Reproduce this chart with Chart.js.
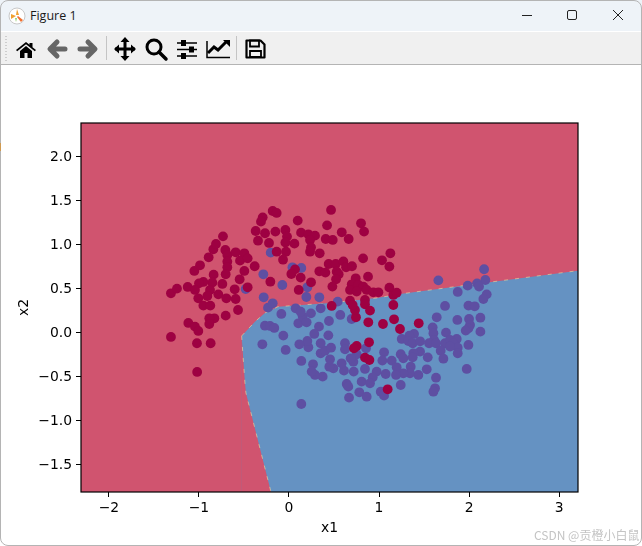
<!DOCTYPE html>
<html>
<head>
<meta charset="utf-8">
<title>Figure 1</title>
<script src="https://cdn.jsdelivr.net/npm/chart.js@4/dist/chart.umd.js"></script>
<style>
    html, body { margin: 0; padding: 0; background: #fff; }
    body { width: 642px; height: 546px; position: relative; overflow: hidden; }
    #frame { position: absolute; left: 0; top: 0; width: 640px; height: 544px; border: 1px solid #b4b4b4; border-radius: 8px 8px 8px 8px; pointer-events: none; z-index: 5; }
    #blip { position: absolute; left: 0; top: 143px; width: 1px; height: 8px; background: #d09a50; z-index: 6; }
    #titlebar { position: absolute; left: 0; top: 0; width: 642px; height: 31px; background: #eef3f8; }
    #caption { position: absolute; left: 30px; top: 7px; font: 12.5px "Open Sans", sans-serif; color: #1a1a1a; }
    #toolbar { position: absolute; left: 0; top: 32px; width: 642px; height: 32px; background: #f0f0f0; border-bottom: 1px solid #b4b4b4; }
    #chrome { position: absolute; left: 0; top: 0; }
    #plot { position: absolute; left: 0; top: 65px; }
    #mark { position: absolute; left: 534px; top: 526px; font: 12px "Noto Sans CJK SC", sans-serif; color: #c4c4c4; white-space: nowrap; }
</style>
</head>
<body>
<div id="titlebar"><div id="caption">Figure 1</div></div>
<div id="toolbar"></div>
<svg id="chrome" width="642" height="65">
    <!-- window icon -->
    <circle cx="17" cy="16" r="8" fill="#fff" stroke="#c8c8c8"/>
    <path d="M11 14l5 2-5 3zM17 9l2 6-3 0z" fill="#f0a030"/>
    <path d="M18 16l5 4-2 2-4-5z" fill="#f07030"/>
    <path d="M15 18l2 0-1 4z" fill="#90d070"/>
    <!-- window buttons -->
    <path d="M522 15.5h10" stroke="#222" stroke-width="1"/>
    <rect x="567.5" y="10.5" width="9" height="9" rx="1.5" fill="none" stroke="#222"/>
    <path d="M613 10l10 10M623 10l-10 10" stroke="#222" stroke-width="1"/>
    <!-- grip -->
    <path d="M6 36v26" stroke="#aaa" stroke-width="1" stroke-dasharray="1 2"/>
    <!-- home -->
    <path d="M16 50l10-8 3.500 2.800v-1.800h3v4.200l3.500 2.800-1.200 1.200-8.800-7-8.800 7z" fill="#000"/>
    <path d="M20 51l6-5 6 5v7h-4.500v-5h-3v5h-4.500z" fill="#000"/>
    <!-- back / forward -->
    <path d="M57 42l-7 7 7 7M51 49h14" fill="none" stroke="#666" stroke-width="5" stroke-linejoin="round" stroke-linecap="round"/>
    <path d="M88 42l7 7-7 7M94 49h-14" fill="none" stroke="#666" stroke-width="5" stroke-linejoin="round" stroke-linecap="round"/>
    <path d="M106.500 36v24M236.500 36v24" stroke="#c4c4c4"/>
    <!-- pan -->
    <path d="M125 39v20M115 49h20" stroke="#000" stroke-width="3"/>
    <path d="M125 37l-4.500 5h9zM125 61l-4.500-5h9zM114 49l5-4.500v9zM136 49l-5-4.500v9z" fill="#000"/>
    <!-- zoom -->
    <circle cx="154" cy="47" r="7" fill="none" stroke="#000" stroke-width="3"/>
    <path d="M159 52l7 7" stroke="#000" stroke-width="3.500" stroke-linecap="round"/>
    <!-- sliders -->
    <path d="M177 43h20M177 49.500h20M177 56h20" stroke="#000" stroke-width="1.500"/>
    <path d="M181 40h5v6h-5zM189 46.500h5v6h-5zM181 53h5v6h-5z" fill="#000"/>
    <!-- axes -->
    <path d="M207 41v16.500h23" fill="none" stroke="#000" stroke-width="1.500"/>
    <path d="M208 53l6-6 4 3 8-8" fill="none" stroke="#000" stroke-width="3"/>
    <path d="M230 40l-7 0 7 7z" fill="#000"/>
    <!-- save -->
    <path d="M246.500 40.500h14l4 4v13h-18z" fill="none" stroke="#000" stroke-width="2.200" stroke-linejoin="round"/>
    <path d="M250 40.500h9v6h-9zM250 51h11v6h-11z" fill="none" stroke="#000" stroke-width="1.800"/>
</svg>
<canvas id="plot" width="642" height="481"></canvas>
<div id="mark">CSDN @贡橙小白鼠</div>
<div id="blip"></div>
<div id="frame"></div>
<script>
    // Axis limits and ticks
    const xMin = -2.31, xMax = 3.21;
    const yMin = -1.807, yMax = 2.386;
    const xTicks = [-2, -1, 0, 1, 2, 3];
    const yTicks = [-1.5, -1.0, -0.5, 0.0, 0.5, 1.0, 1.5, 2.0];

    // Decision boundary
    const boundaryTop = [
        [-0.526, -0.034], [-0.378, 0.128], [-0.267, 0.227], [-0.122, 0.299], [0.456, 0.341],
        [0.978, 0.398], [1.233, 0.443], [1.822, 0.523], [3.21, 0.708]
    ];
    const boundaryLeft = [
        [-0.526, -0.034], [-0.489, -0.568], [-0.478, -0.682], [-0.2, -1.807]
    ];

    // Class 0 samples
    const redPoints = [
        [-1.311, 0.451], [-1.244, 0.504], [-1.125, 0.523], [-1.051, 0.705], [-0.988, 0.769], [-0.892, 0.860],
        [-0.840, 0.951], [-0.811, 1.011], [-0.733, 1.098], [-0.707, 0.943], [-0.685, 0.886], [-0.685, 0.811],
        [-0.685, 0.746], [-0.703, 0.667], [-0.592, 0.917], [-0.496, 0.905], [-0.544, 0.822], [-0.459, 0.848],
        [-0.496, 0.705], [-0.548, 0.610], [-0.381, 0.758], [-0.740, 0.557], [-0.603, 0.496], [-0.459, 0.519],
        [-0.837, 0.663], [-0.851, 0.572], [-0.951, 0.580], [-1.000, 0.564], [-1.044, 0.489], [-0.877, 0.489],
        [-0.907, 0.420], [-0.785, 0.439], [-0.696, 0.394], [-0.592, 0.386], [-1.007, 0.394], [-0.951, 0.311],
        [-0.874, 0.311], [-0.566, 0.261], [-0.703, 0.197], [-0.829, 0.167], [-0.885, 0.167], [-0.885, 0.102],
        [-1.118, 0.114], [-1.044, 0.072], [-1.007, 0.023], [-1.311, -0.045], [-1.022, -0.117], [-0.870, -0.117],
        [-1.020, -0.443],
        [-0.181, 1.386], [-0.137, 1.364], [-0.292, 1.314], [-0.311, 1.265], [-0.370, 1.159], [-0.266, 1.133],
        [-0.151, 1.152], [-0.344, 1.049], [-0.222, 1.023], [-0.040, 1.170], [-0.022, 1.095], [-0.040, 1.027],
        [0.060, 1.015], [-0.033, 0.924], [-0.137, 0.924], [-0.066, 0.833], [0.097, 1.277], [0.134, 1.140],
        [0.215, 1.121], [0.289, 1.106], [0.234, 1.057], [0.408, 1.068], [0.486, 1.057], [0.663, 1.068],
        [0.586, 1.144], [0.800, 1.246], [0.834, 1.152], [0.423, 1.223], [0.467, 1.398], [0.245, 0.973],
        [0.234, 0.924], [0.341, 0.905], [0.823, 0.848], [0.441, 0.784], [0.519, 0.784], [0.604, 0.814],
        [0.634, 0.746], [0.700, 0.758], [0.337, 0.701], [0.404, 0.686], [0.530, 0.697], [0.552, 0.667],
        [0.523, 0.610], [0.482, 0.527], [0.245, 0.576], [0.130, 0.629], [0.067, 0.723], [0.026, 0.670],
        [-0.207, 0.583], [0.108, 0.489], [0.878, 0.640], [0.741, 0.621], [0.697, 0.553], [0.771, 0.545],
        [0.826, 0.527], [0.678, 0.489], [0.752, 0.470], [0.863, 0.489],
        [1.126, 0.905], [1.033, 0.826], [1.115, 0.754],
        [0.937, 0.462], [0.993, 0.462], [1.115, 0.515], [1.159, 0.432], [1.196, 0.458], [1.159, 0.318],
        [1.167, 0.155], [1.044, 0.102], [0.881, 0.121], [1.233, 0.045], [1.441, 0.110], [0.889, -0.106],
        [0.752, -0.148], [0.722, -0.174], [0.844, -0.280], [0.893, -0.307], [1.096, -0.640], [0.844, 0.375],
        [0.844, 0.326], [0.900, 0.254], [0.744, 0.178], [0.733, 0.261], [0.678, 0.367], [0.707, 0.318],
        [0.474, 0.307]
    ];

    // Class 1 samples
    const bluePoints = [
        [-0.203, 0.913], [0.038, 0.746], [0.137, 0.739], [-0.285, 0.667], [-0.074, 0.545], [-0.481, 0.500],
        [0.204, 0.519], [-0.281, 0.405], [0.193, 0.409], [0.337, 0.405],
        [1.659, 0.598], [1.733, 0.307], [1.641, 0.178], [1.596, 0.064], [1.744, 0.004], [1.604, -0.004],
        [1.611, -0.080], [1.556, -0.117], [1.389, -0.011], [1.337, -0.030], [1.252, -0.068], [1.326, -0.091],
        [1.374, -0.117], [1.456, -0.095], [1.633, -0.117], [1.733, -0.117], [1.685, -0.201], [1.715, -0.292],
        [1.541, -0.277], [1.456, -0.212], [1.381, -0.231], [1.374, -0.277], [1.241, -0.242], [1.270, -0.288],
        [1.056, -0.220], [1.037, -0.314], [1.141, -0.314], [1.196, -0.390], [1.352, -0.383], [1.530, -0.413],
        [1.437, -0.477], [1.344, -0.458], [1.270, -0.458], [1.189, -0.477], [1.074, -0.466], [0.974, -0.439],
        [0.930, -0.504], [0.807, -0.553], [0.900, -0.572], [0.844, -0.409], [0.719, -0.439], [0.611, -0.428],
        [0.715, -0.326], [0.752, -0.242], [0.685, -0.288], [0.622, -0.117], [0.622, -0.186], [0.856, -0.174],
        [0.585, -0.345], [0.493, -0.402], [0.448, -0.383], [0.456, -0.299], [0.352, -0.231], [0.400, -0.201],
        [0.467, -0.167], [0.352, -0.117], [0.215, -0.163], [0.204, -0.091], [0.115, -0.129], [-0.037, -0.193],
        [-0.296, -0.129], [-0.063, -0.030], [-0.267, 0.083], [-0.211, 0.080], [-0.163, 0.057], [-0.085, 0.216],
        [0.104, 0.110], [0.152, 0.186], [0.196, 0.121], [0.244, 0.223], [0.352, 0.280], [0.074, 0.280],
        [0.130, 0.242], [0.444, 0.136], [0.570, 0.205], [0.696, 0.159], [0.333, 0.072], [0.281, -0.011],
        [0.437, -0.027], [0.137, -0.318], [0.267, -0.356], [0.374, -0.496], [0.289, -0.477], [0.252, -0.439],
        [0.641, -0.580], [0.659, -0.610], [0.667, -0.735], [0.781, -0.674], [0.863, -0.724], [1.019, -0.667],
        [1.056, -0.712], [1.241, -0.591], [1.633, -0.508], [1.622, -0.629], [1.604, -0.667], [0.541, 0.356],
        [-0.233, 0.288], [-0.181, 0.337], [0.137, -0.807],
        [2.167, 0.724], [2.181, 0.602], [2.089, 0.564], [2.111, 0.527], [1.985, 0.538], [1.874, 0.466],
        [2.196, 0.439], [2.159, 0.386], [1.993, 0.311], [2.063, 0.303], [1.870, 0.148], [2.000, 0.159],
        [2.126, 0.174], [2.011, 0.091], [1.993, 0.053], [1.963, 0.027], [2.126, 0.015], [1.863, -0.068],
        [1.789, -0.080], [1.826, -0.118], [1.874, -0.167], [1.789, -0.155], [1.993, -0.136], [1.874, -0.231],
        [1.974, -0.409]
    ];

    const RED_AREA = '#d0546f';
    const BLUE_AREA = '#6592c2';
    const EDGE = 'rgba(240,235,160,0.55)';
    const tickFont = { family: 'DejaVu Sans', size: 13.9 };
    const toXY = pts => pts.map(p => ({ x: p[0], y: p[1] }));
    const fmt = (v, digits) => v.toFixed(digits).replace('-', '\u2212');

    // Black box round the axes, matplotlib style
    const axesBox = {
        id: 'axesBox',
        afterDraw(chart) {
            const { ctx, chartArea: a } = chart;
            ctx.save();
            ctx.strokeStyle = '#000';
            ctx.lineWidth = 1.2;
            ctx.strokeRect(a.left, a.top, a.right - a.left, a.bottom - a.top);
            ctx.restore();
        }
    };

    const area = (data, color, order) => ({
        data: toXY(data), showLine: true, fill: 'start', backgroundColor: color,
        borderWidth: 0, pointRadius: 0, tension: 0, order
    });
    const edge = data => ({
        data: toXY(data), showLine: true, borderColor: EDGE, borderWidth: 1, borderDash: [4, 7],
        pointRadius: 0, fill: false, order: 3
    });
    const dots = (data, color, order) => ({
        data: toXY(data), backgroundColor: color, borderWidth: 0, pointRadius: 4.9, order
    });

    new Chart(document.getElementById('plot'), {
        type: 'scatter',
        data: {
            datasets: [
                area([[xMin, yMax], [xMax, yMax]], RED_AREA, 6),
                area(boundaryTop, BLUE_AREA, 5),
                area(boundaryLeft, RED_AREA, 4),
                edge(boundaryTop),
                edge(boundaryLeft),
                dots(bluePoints, '#5e4fa2', 2),
                dots(redPoints, '#9e0142', 1)
            ]
        },
        options: {
            responsive: false,
            animation: false,
            layout: { padding: { left: 0, right: 64, top: 58, bottom: 0 } },
            plugins: { legend: { display: false }, tooltip: { enabled: false } },
            scales: {
                x: {
                    type: 'linear', min: xMin, max: xMax,
                    afterFit: s => { s.height = 54; },
                    afterBuildTicks: s => { s.ticks = xTicks.map(v => ({ value: v })); },
                    grid: { drawOnChartArea: false, color: '#000', tickLength: 5, tickWidth: 1 },
                    border: { display: false },
                    ticks: { color: '#000', font: tickFont, padding: 3, maxRotation: 0, callback: v => fmt(v, 0) },
                    title: { display: true, text: 'x1', color: '#000', font: tickFont, padding: { top: 0, bottom: 9 } }
                },
                y: {
                    type: 'linear', min: yMin, max: yMax,
                    afterFit: s => { s.width = 81; },
                    afterBuildTicks: s => { s.ticks = yTicks.map(v => ({ value: v })); },
                    grid: { drawOnChartArea: false, color: '#000', tickLength: 5, tickWidth: 1 },
                    border: { display: false },
                    ticks: { color: '#000', font: tickFont, padding: 4, callback: v => fmt(v, 1) },
                    title: { display: true, text: 'x2', color: '#000', font: tickFont, padding: { top: 16, bottom: 0 } }
                }
            }
        },
        plugins: [axesBox]
    });
</script>
</body>
</html>
